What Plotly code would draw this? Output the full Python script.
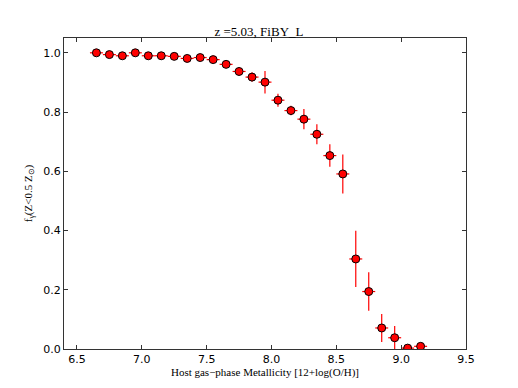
import plotly.graph_objects as go

# bin centres in 12+log(O/H)
metallicity = [6.65, 6.75, 6.85, 6.95, 7.05, 7.15, 7.25, 7.35, 7.45, 7.55,
               7.65, 7.75, 7.85, 7.95, 8.05, 8.15, 8.25, 8.35, 8.45, 8.55,
               8.65, 8.75, 8.85, 8.95, 9.05, 9.15]
f_gamma = [1.000, 0.994, 0.990, 1.000, 0.990, 0.990, 0.988, 0.981, 0.984, 0.977,
           0.961, 0.937, 0.918, 0.901, 0.840, 0.805, 0.776, 0.725, 0.653, 0.591,
           0.304, 0.194, 0.071, 0.038, 0.003, 0.009]
f_err = [0.003, 0.004, 0.005, 0.004, 0.005, 0.005, 0.005, 0.006, 0.006, 0.007,
         0.012, 0.014, 0.016, 0.038, 0.022, 0.016, 0.034, 0.034, 0.038, 0.066,
         0.095, 0.065, 0.047, 0.040, 0.004, 0.006]
bin_half = [0.05] * len(metallicity)

x_ticks = [6.5, 7.0, 7.5, 8.0, 8.5, 9.0, 9.5]
y_ticks = [0.0, 0.2, 0.4, 0.6, 0.8, 1.0]

serif = "Liberation Serif"
sans = "DejaVu Sans"

fig = go.Figure()
fig.add_trace(go.Scatter(
    x=metallicity, y=f_gamma, mode="markers",
    marker=dict(color="red", size=8, line=dict(color="black", width=1)),
    error_y=dict(type="data", array=f_err, color="red", thickness=1.2, width=0),
    error_x=dict(type="data", array=bin_half, color="red", thickness=1.2, width=0),
    showlegend=False,
))

axis_common = dict(
    showgrid=False, zeroline=False, showline=True, linecolor="#333333", linewidth=1.2,
    mirror="ticks", ticks="inside", ticklen=4, tickcolor="#333333", automargin=False,
    tickfont=dict(family=sans, size=11, color="black"),
)

fig.update_layout(
    width=518, height=388,
    margin=dict(l=64, r=52, t=38, b=39),
    paper_bgcolor="white", plot_bgcolor="white",
    title=dict(text="z =5.03, FiBY_L", x=0.5, xanchor="center", y=1 - 31 / 388, yanchor="middle",
               font=dict(family=serif, size=13, color="black")),
    xaxis=dict(range=[6.4, 9.5], tickvals=x_ticks, ticktext=[f"{v:.1f}" for v in x_ticks],
               title=dict(text="Host gas\u2212phase Metallicity [12+log(O/H)]", standoff=2,
                          font=dict(family=serif, size=11, color="black")),
               **axis_common),
    yaxis=dict(range=[0, 1.05], tickvals=y_ticks, ticktext=[f"{v:.1f}" for v in y_ticks],
               title=dict(text="f<sub>\u03b3</sub>(Z&lt;0.5 Z<sub>\u2299</sub>)", standoff=8,
                          font=dict(family=serif, size=11, color="black")),
               **axis_common),
)

# drop the browser's default body margin so the figure sits at the page corner
fig.write_html("out.html", config={"displayModeBar": False},
               post_script="document.body.style.margin='0';")
